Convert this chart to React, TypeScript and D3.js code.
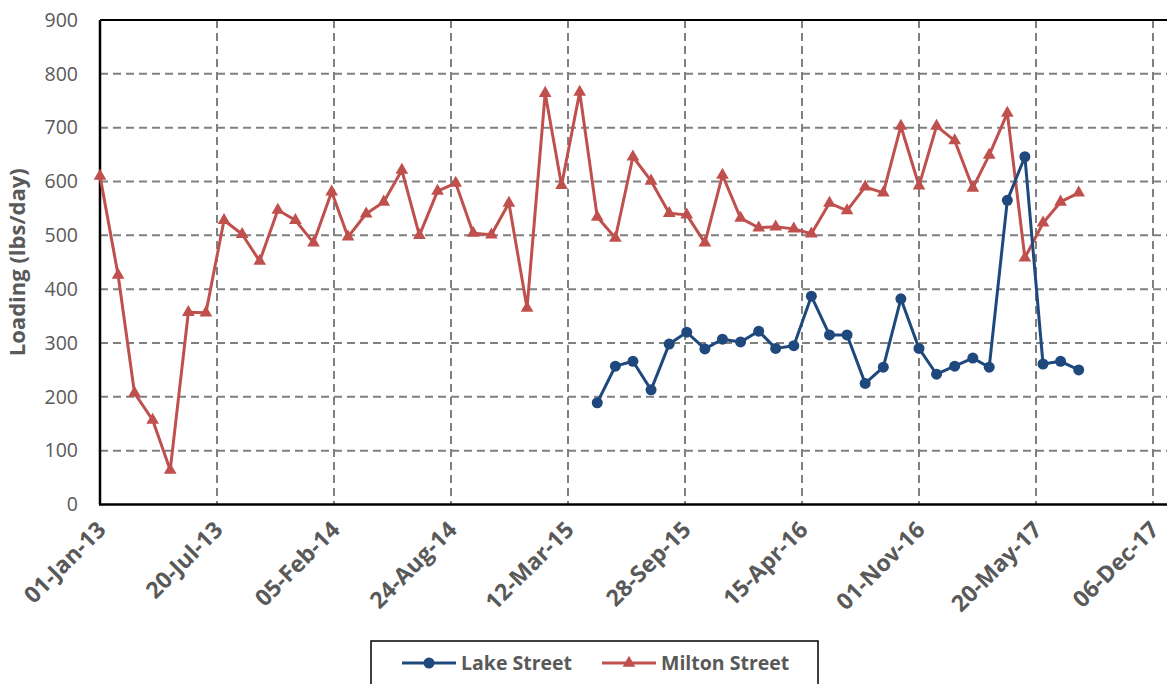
import React, { useEffect, useRef } from 'react';
import * as d3 from 'd3';

// monthly samples, Jan-13 .. Aug-17
const miltonMonths = [
  'Jan-13', 'Feb-13', 'Mar-13', 'Apr-13', 'May-13', 'Jun-13', 'Jul-13', 'Aug-13', 'Sep-13', 'Oct-13', 'Nov-13', 'Dec-13',
  'Jan-14', 'Feb-14', 'Mar-14', 'Apr-14', 'May-14', 'Jun-14', 'Jul-14', 'Aug-14', 'Sep-14', 'Oct-14', 'Nov-14', 'Dec-14',
  'Jan-15', 'Feb-15', 'Mar-15', 'Apr-15', 'May-15', 'Jun-15', 'Jul-15', 'Aug-15', 'Sep-15', 'Oct-15', 'Nov-15', 'Dec-15',
  'Jan-16', 'Feb-16', 'Mar-16', 'Apr-16', 'May-16', 'Jun-16', 'Jul-16', 'Aug-16', 'Sep-16', 'Oct-16', 'Nov-16', 'Dec-16',
  'Jan-17', 'Feb-17', 'Mar-17', 'Apr-17', 'May-17', 'Jun-17', 'Jul-17', 'Aug-17',
];
const miltonValues = [
  610, 426, 207, 157, 64, 357, 356, 528, 502, 452, 547, 528,
  486, 581, 497, 540, 562, 621, 500, 582, 597, 504, 501, 560,
  365, 764, 593, 766, 534, 495, 646, 601, 541, 538, 486, 612,
  532, 514, 516, 512, 503, 560, 546, 590, 579, 703, 592, 703,
  676, 588, 649, 727, 458, 523, 562, 579,
];

const lakeMonths = [
  'May-15', 'Jun-15', 'Jul-15', 'Aug-15', 'Sep-15', 'Oct-15', 'Nov-15', 'Dec-15',
  'Jan-16', 'Feb-16', 'Mar-16', 'Apr-16', 'May-16', 'Jun-16', 'Jul-16', 'Aug-16', 'Sep-16', 'Oct-16', 'Nov-16', 'Dec-16',
  'Jan-17', 'Feb-17', 'Mar-17', 'Apr-17', 'May-17', 'Jun-17', 'Jul-17', 'Aug-17',
];
const lakeValues = [
  189, 257, 266, 213, 298, 320, 289, 307,
  302, 322, 290, 295, 387, 315, 315, 225, 255, 382, 290, 242,
  257, 272, 255, 565, 646, 261, 266, 250,
];

const xTickLabels = [
  '01-Jan-13', '20-Jul-13', '05-Feb-14', '24-Aug-14', '12-Mar-15',
  '28-Sep-15', '15-Apr-16', '01-Nov-16', '20-May-17', '06-Dec-17',
];
const yTicks = [0, 100, 200, 300, 400, 500, 600, 700, 800, 900];

const RED = '#C0504D';
const BLUE = '#1F497D';
const FONT = '"Open Sans", sans-serif';

type Pt = { date: Date; value: number };

const App: React.FC = () => {
  const ref = useRef<SVGSVGElement | null>(null);

  useEffect(() => {
    const svg = d3.select(ref.current);
    svg.selectAll('*').remove();

    const parseMonth = d3.timeParse('%b-%y');
    const parseTick = d3.timeParse('%d-%b-%y');
    const milton: Pt[] = miltonMonths.map((m, i) => ({ date: parseMonth(m) as Date, value: miltonValues[i] }));
    const lake: Pt[] = lakeMonths.map((m, i) => ({ date: parseMonth(m) as Date, value: lakeValues[i] }));
    const tickDates = xTickLabels.map(t => parseTick(t) as Date);

    const left = 100, top = 20, bottom = 504.5, right = 1153;

    const x = d3.scaleTime()
      .domain([tickDates[0], tickDates[tickDates.length - 1]])
      .range([left, right]);
    const y = d3.scaleLinear().domain([0, 900]).range([bottom, top]);

    const g = svg.append('g');

    // horizontal grid
    g.selectAll('line.hgrid')
      .data(yTicks.filter(v => v > 0 && v < 900))
      .enter().append('line')
      .attr('x1', left).attr('x2', 1180)
      .attr('y1', d => y(d)).attr('y2', d => y(d))
      .attr('stroke', '#808080').attr('stroke-width', 2)
      .attr('stroke-dasharray', '8,5');

    // vertical grid
    g.selectAll('line.vgrid')
      .data(tickDates.slice(1))
      .enter().append('line')
      .attr('x1', d => x(d)).attr('x2', d => x(d))
      .attr('y1', top).attr('y2', bottom)
      .attr('stroke', '#808080').attr('stroke-width', 2)
      .attr('stroke-dasharray', '8,5');

    // frame: top, left, bottom
    g.append('line').attr('x1', left).attr('x2', 1180).attr('y1', top).attr('y2', top)
      .attr('stroke', '#000').attr('stroke-width', 2);
    g.append('line').attr('x1', left).attr('x2', left).attr('y1', top).attr('y2', bottom)
      .attr('stroke', '#000').attr('stroke-width', 2.5);
    g.append('line').attr('x1', left - 1).attr('x2', 1180).attr('y1', bottom).attr('y2', bottom)
      .attr('stroke', '#000').attr('stroke-width', 2.5);

    // y labels
    const yAxis = g.append('g')
      .attr('transform', `translate(${left - 22},0)`)
      .call(d3.axisLeft(y).tickValues(yTicks).tickSize(0).tickPadding(0));
    yAxis.select('.domain').remove();
    yAxis.selectAll('text')
      .attr('font-family', FONT).attr('font-size', 19.5).attr('fill', '#595959');

    // x labels
    const xAxis = g.append('g')
      .attr('transform', `translate(0,${bottom})`)
      .call(d3.axisBottom(x).tickValues(tickDates).tickSize(0)
        .tickFormat((d, i) => xTickLabels[i]));
    xAxis.select('.domain').remove();
    xAxis.selectAll('text')
      .attr('font-family', FONT).attr('font-size', 23).attr('font-weight', 'bold')
      .attr('fill', '#595959')
      .attr('text-anchor', 'end')
      .attr('dy', '0.35em')
      .attr('transform', 'translate(1,21) rotate(-45)')
      .attr('y', 0).attr('x', 0);

    // y title
    g.append('text')
      .attr('transform', `translate(25,${(top + bottom) / 2}) rotate(-90)`)
      .attr('text-anchor', 'middle')
      .attr('font-family', FONT).attr('font-size', 22).attr('font-weight', 'bold')
      .attr('fill', '#595959')
      .text('Loading (lbs/day)');

    const line = d3.line<Pt>().x(d => x(d.date)).y(d => y(d.value));

    g.append('path').datum(milton)
      .attr('fill', 'none').attr('stroke', RED).attr('stroke-width', 3)
      .attr('stroke-linejoin', 'round').attr('d', line);
    const tri = d3.symbol().type(d3.symbolTriangle).size(70);
    g.selectAll('path.tri').data(milton).enter().append('path')
      .attr('d', tri)
      .attr('transform', d => `translate(${x(d.date)},${y(d.value)})`)
      .attr('fill', RED);

    g.append('path').datum(lake)
      .attr('fill', 'none').attr('stroke', BLUE).attr('stroke-width', 3)
      .attr('stroke-linejoin', 'round').attr('d', line);
    g.selectAll('circle.dot').data(lake).enter().append('circle')
      .attr('cx', d => x(d.date)).attr('cy', d => y(d.value)).attr('r', 5.5)
      .attr('fill', BLUE);

    // legend
    const lg = g.append('g');
    lg.append('rect').attr('x', 371).attr('y', 641).attr('width', 447).attr('height', 60)
      .attr('fill', '#fff').attr('stroke', '#000').attr('stroke-width', 1.5);
    const items = [
      { name: 'Lake Street', color: BLUE, x0: 402, marker: 'circle' },
      { name: 'Milton Street', color: RED, x0: 602, marker: 'tri' },
    ];
    items.forEach(it => {
      lg.append('line').attr('x1', it.x0).attr('x2', it.x0 + 54).attr('y1', 663).attr('y2', 663)
        .attr('stroke', it.color).attr('stroke-width', 3);
      if (it.marker === 'circle') {
        lg.append('circle').attr('cx', it.x0 + 27).attr('cy', 663).attr('r', 5.5).attr('fill', it.color);
      } else {
        lg.append('path').attr('d', tri).attr('transform', `translate(${it.x0 + 27},663)`).attr('fill', it.color);
      }
      lg.append('text').attr('x', it.x0 + 59).attr('y', 663).attr('dy', '0.35em')
        .attr('font-family', FONT).attr('font-size', 19.5).attr('font-weight', 'bold')
        .attr('fill', '#595959').text(it.name);
    });
  }, []);

  return (
    <svg ref={ref} width={1167} height={684}
      style={{ position: 'absolute', left: 0, top: 0, background: '#fff' }} />
  );
};

export default App;
